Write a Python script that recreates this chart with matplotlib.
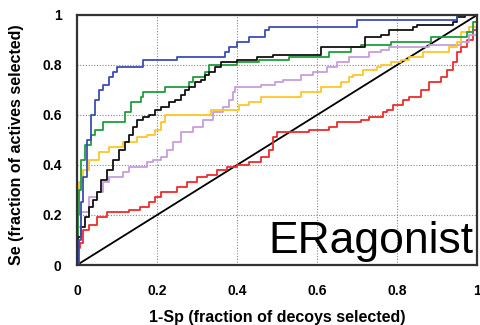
import matplotlib
matplotlib.use("Agg")
import matplotlib.pyplot as plt

plt.rcParams['font.family'] = ['Liberation Sans', 'DejaVu Sans']

# ROC curves: false positive rate (x) and true positive rate (y)
blue_x = [0, 0.005, 0.01, 0.015, 0.025, 0.035, 0.045, 0.055, 0.065, 0.08, 0.09, 0.1, 0.16, 0.165,
          0.24, 0.25, 0.36, 0.37, 0.38, 0.4, 0.43, 0.47, 0.48, 0.69, 0.70, 0.94, 0.95, 1]
blue_y = [0, 0.1, 0.25, 0.35, 0.5, 0.6, 0.66, 0.7, 0.72, 0.75, 0.77, 0.79, 0.79, 0.82,
          0.82, 0.83, 0.83, 0.85, 0.87, 0.89, 0.91, 0.94, 0.95, 0.95, 0.98, 0.98, 1.0, 1]

green_x = [0, 0.003, 0.005, 0.01, 0.02, 0.035, 0.045, 0.065, 0.11, 0.12, 0.135, 0.16, 0.165,
           0.215, 0.22, 0.275, 0.28, 0.29, 0.32, 0.33, 0.395, 0.40, 0.45, 0.455, 0.525, 0.53,
           0.625, 0.63, 0.68, 0.685, 0.71, 0.78, 0.785, 0.88, 0.885, 0.965, 0.975, 0.99, 1]
green_y = [0, 0.2, 0.3, 0.42, 0.48, 0.52, 0.54, 0.57, 0.57, 0.61, 0.65, 0.67, 0.69,
           0.69, 0.71, 0.71, 0.73, 0.75, 0.77, 0.80, 0.80, 0.81, 0.81, 0.82, 0.82, 0.83,
           0.83, 0.85, 0.85, 0.87, 0.88, 0.88, 0.89, 0.89, 0.91, 0.91, 0.93, 0.97, 1]

black_x = [0, 0.003, 0.01, 0.02, 0.03, 0.04, 0.05, 0.06, 0.075, 0.09, 0.105, 0.12, 0.13, 0.14,
           0.15, 0.165, 0.18, 0.195, 0.21, 0.23, 0.245, 0.26, 0.27, 0.28, 0.295, 0.31, 0.32,
           0.33, 0.345, 0.36, 0.39, 0.40, 0.45, 0.49, 0.60, 0.61, 0.71, 0.72, 0.76, 0.78, 0.84,
           0.85, 0.94, 0.95, 0.97, 1]
black_y = [0, 0.11, 0.15, 0.19, 0.23, 0.26, 0.29, 0.34, 0.38, 0.42, 0.46, 0.49, 0.52, 0.55,
           0.58, 0.59, 0.60, 0.62, 0.63, 0.65, 0.66, 0.68, 0.70, 0.71, 0.73, 0.74, 0.76,
           0.77, 0.79, 0.81, 0.81, 0.82, 0.83, 0.84, 0.84, 0.87, 0.87, 0.91, 0.92, 0.94, 0.95,
           0.96, 0.97, 0.99, 1.0, 1]

yellow_x = [0, 0.003, 0.006, 0.015, 0.03, 0.055, 0.08, 0.115, 0.15, 0.175, 0.195, 0.21, 0.22,
            0.315, 0.335, 0.39, 0.405, 0.43, 0.46, 0.55, 0.56, 0.60, 0.61, 0.65, 0.66, 0.68,
            0.69, 0.715, 0.75, 0.76, 0.785, 0.81, 0.83, 0.865, 0.925, 0.93, 0.95, 0.96, 0.98, 1]
yellow_y = [0, 0.25, 0.33, 0.38, 0.42, 0.45, 0.47, 0.49, 0.51, 0.52, 0.54, 0.57, 0.60,
            0.60, 0.62, 0.62, 0.64, 0.65, 0.67, 0.67, 0.69, 0.69, 0.71, 0.71, 0.73, 0.75,
            0.76, 0.78, 0.79, 0.80, 0.81, 0.82, 0.83, 0.85, 0.85, 0.87, 0.89, 0.93, 0.95, 1]

violet_x = [0, 0.003, 0.01, 0.03, 0.05, 0.065, 0.08, 0.115, 0.13, 0.175, 0.19, 0.21, 0.225,
            0.24, 0.26, 0.29, 0.315, 0.34, 0.365, 0.38, 0.39, 0.395, 0.43, 0.46, 0.495, 0.515,
            0.56, 0.59, 0.625, 0.65, 0.68, 0.73, 0.76, 0.78, 0.88, 0.96, 0.98, 1]
violet_y = [0, 0.15, 0.21, 0.27, 0.29, 0.33, 0.35, 0.37, 0.39, 0.41, 0.42, 0.43, 0.46,
            0.49, 0.53, 0.55, 0.58, 0.61, 0.63, 0.66, 0.69, 0.71, 0.71, 0.72, 0.73, 0.74,
            0.76, 0.77, 0.79, 0.81, 0.83, 0.85, 0.86, 0.87, 0.88, 0.89, 0.92, 1]

red_x = [0, 0.003, 0.008, 0.015, 0.03, 0.05, 0.075, 0.1, 0.13, 0.1575, 0.18, 0.195, 0.21,
         0.25, 0.275, 0.3, 0.325, 0.35, 0.375, 0.4, 0.43, 0.46, 0.48, 0.49, 0.5, 0.58, 0.63,
         0.65, 0.71, 0.73, 0.765, 0.775, 0.79, 0.815, 0.83, 0.86, 0.88, 0.91, 0.925, 0.94,
         0.95, 0.96, 0.975, 0.99, 1]
red_y = [0, 0.07, 0.09, 0.14, 0.16, 0.19, 0.21, 0.21, 0.22, 0.23, 0.25, 0.27, 0.29,
         0.31, 0.33, 0.35, 0.36, 0.38, 0.39, 0.40, 0.41, 0.43, 0.46, 0.51, 0.53, 0.54, 0.55,
         0.57, 0.58, 0.59, 0.61, 0.62, 0.64, 0.66, 0.67, 0.70, 0.73, 0.75, 0.78, 0.81,
         0.85, 0.87, 0.90, 0.94, 1]

random_x = [0, 1]
random_y = [0, 1]

ticks = [0, 0.2, 0.4, 0.6, 0.8, 1]
tick_labels = ['0', '0.2', '0.4', '0.6', '0.8', '1']

fig = plt.figure(figsize=(4.8, 3.25), dpi=100)
ax = fig.add_axes([0.1604, 0.1846, 0.8336, 0.7694])

ax.plot(random_x, random_y, color='black', lw=1.3)
curves = [
    (red_x, red_y, '#ee2b2b'),
    (violet_x, violet_y, '#c79ddb'),
    (yellow_x, yellow_y, '#ffc629'),
    (green_x, green_y, '#1d9e3c'),
    (black_x, black_y, '#111111'),
    (blue_x, blue_y, '#3a4db5'),
]
for xs, ys, c in curves:
    ax.plot(xs, ys, color=c, lw=1.3, drawstyle='steps-post')

ax.set_xlim(0, 1)
ax.set_ylim(0, 1)
ax.set_xticks(ticks)
ax.set_yticks(ticks)
ax.set_xticklabels(tick_labels, fontweight='bold', fontsize=10)
ax.set_yticklabels(tick_labels, fontweight='bold', fontsize=10)
ax.tick_params(length=0, pad=11)
ax.tick_params(axis='x', pad=14)
ax.grid(True, color='#888888', linestyle=(0, (1, 1.5)), lw=0.8)
for s in ax.spines.values():
    s.set_linewidth(1.6)
    s.set_color('#333333')

ax.set_xlabel('1-Sp (fraction of decoys selected)', fontweight='bold', fontsize=11.5, va='center')
ax.set_ylabel('Se (fraction of actives selected)', fontweight='bold', fontsize=11.5, va='center')
ax.xaxis.set_label_coords(0.5, -0.208)
ax.yaxis.set_label_coords(-0.15, 0.48)

ax.text(0.99, 0.05, 'ERagonist', fontsize=32, ha='right', va='baseline', color='black')

fig.savefig('out.png', dpi=100)
